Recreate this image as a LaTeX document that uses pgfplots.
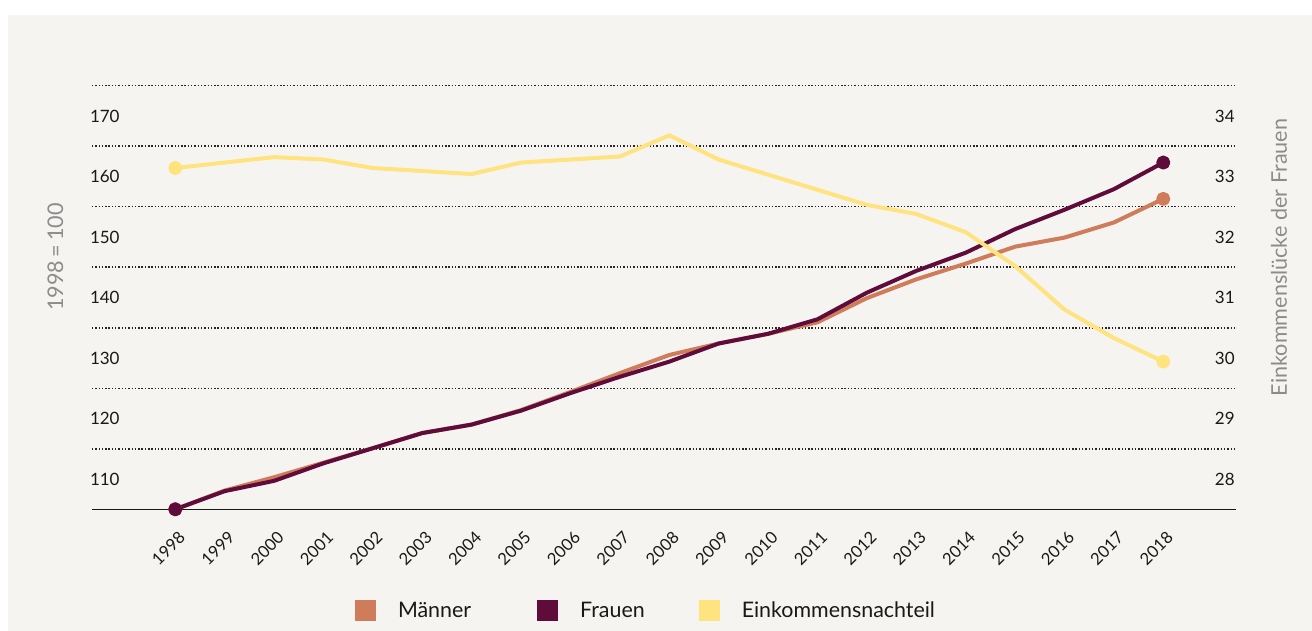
\documentclass[border=0pt]{standalone}
\usepackage{fontspec}
\setmainfont{Lato}
\usepackage{pgfplots}
\pgfplotsset{compat=1.18}
\definecolor{panel}{RGB}{245,244,241}
\definecolor{maenner}{RGB}{206,124,90}
\definecolor{frauen}{RGB}{96,12,58}
\definecolor{nachteil}{RGB}{254,227,126}
\definecolor{titlegray}{RGB}{140,140,140}
\definecolor{ink}{RGB}{25,25,25}

\pgfplotsset{
  common/.style={
    at={(46pt,60.85pt)}, anchor=south west,
    scale only axis, width=572pt, height=211.8pt,
    xmin=1996.314, xmax=2019.472,
    clip=false,
    major tick length=0pt,
    /pgf/number format/.cd, 1000 sep={}, assume math mode=true, /pgfplots/.cd,
    ticklabel style={color=ink},
  },
  series/.style={line width=2pt, line join=round, mark=*, mark indices={1,21},
    mark size=2.5pt, mark options={solid}},
}

\begin{document}
\begin{tikzpicture}[x=1pt,y=1pt]
\useasboundingbox (0,0) rectangle (656,315.5);
\fill[white] (0,0) rectangle (656,315.5);
\fill[panel] (4,0) rectangle (656,308);

% left axis: index 1998 = 100
\begin{axis}[common,
  ymin=100, ymax=170,
  axis x line=bottom, axis y line=left,
  x axis line style={-, line width=0.75pt, color=ink},
  y axis line style={draw=none},
  xtick={1998,...,2018},
  xticklabel style={font=\fontsize{8.3}{9}\selectfont, inner sep=0pt,
    xshift=3.5pt, yshift=-12.5pt, rotate=45, anchor=east},
  ytick={110,120,...,170},
  yticklabel style={font=\fontsize{8.5}{10}\selectfont, inner sep=0pt,
    anchor=east, xshift=14pt, yshift=-15.25pt},
  ymajorgrids,
  grid style={color=black!85, line width=0.75pt, dash pattern=on 0.7pt off 0.95pt},
  legend columns=3,
  legend cell align=left,
  legend image code/.code={\fill[#1] (0pt,-4.7pt) rectangle (10.5pt,5.8pt);},
  legend style={at={(0.2299,-0.2389)}, anchor=west, draw=none, fill=none,
    inner sep=0pt, outer sep=0pt,
    font=\fontsize{10.7}{12}\selectfont, text=ink,
    nodes={inner sep=0pt},
    /tikz/column 1/.style={column sep=11pt},
    /tikz/column 2/.style={column sep=33pt},
    /tikz/column 3/.style={column sep=11pt},
    /tikz/column 4/.style={column sep=27pt},
    /tikz/column 5/.style={column sep=11pt}},
]
\addplot[series, color=maenner, forget plot] coordinates {
  (1998,100) (1999,103.1) (2000,105.3) (2001,107.7) (2002,110.1)
  (2003,112.6) (2004,114.0) (2005,116.4) (2006,119.4) (2007,122.5)
  (2008,125.5) (2009,127.4) (2010,129.0) (2011,130.9) (2012,134.9)
  (2013,138.0) (2014,140.6) (2015,143.4) (2016,144.9) (2017,147.4)
  (2018,151.3)
};
\addplot[series, color=frauen, forget plot] coordinates {
  (1998,100) (1999,103.0) (2000,104.7) (2001,107.6) (2002,110.1)
  (2003,112.6) (2004,114.0) (2005,116.3) (2006,119.2) (2007,121.9)
  (2008,124.4) (2009,127.4) (2010,129.0) (2011,131.4) (2012,135.8)
  (2013,139.4) (2014,142.4) (2015,146.3) (2016,149.5) (2017,152.9)
  (2018,157.3)
};
\addlegendimage{fill=maenner, draw=none}
\addlegendentry{Männer}
\addlegendimage{fill=frauen, draw=none}
\addlegendentry{Frauen}
\addlegendimage{fill=nachteil, draw=none}
\addlegendentry{Einkommensnachteil}
\node[rotate=90, color=titlegray, font=\fontsize{10.8}{12}\selectfont]
  at (rel axis cs:-0.0319,0.5956) {1998\thinspace=\thinspace100};
\end{axis}

% right axis: income gap of women
\begin{axis}[common,
  ymin=27.5, ymax=34.5,
  hide x axis,
  axis y line*=right,
  y axis line style={draw=none},
  ytick={28,...,34},
  yticklabel style={font=\fontsize{8.5}{10}\selectfont, inner sep=0pt,
    anchor=east, xshift=-0.5pt},
]
\addplot[series, color=nachteil] coordinates {
  (1998,33.14) (1999,33.23) (2000,33.32) (2001,33.28) (2002,33.14)
  (2003,33.09) (2004,33.04) (2005,33.23) (2006,33.28) (2007,33.33)
  (2008,33.68) (2009,33.28) (2010,33.03) (2011,32.78) (2012,32.53)
  (2013,32.38) (2014,32.08) (2015,31.52) (2016,30.80) (2017,30.33)
  (2018,29.94)
};
\node[rotate=90, color=titlegray, font=\fontsize{10.8}{12}\selectfont]
  at (rel axis cs:1.0376,0.5944) {Einkommenslücke der Frauen};
\end{axis}
\end{tikzpicture}
\end{document}
